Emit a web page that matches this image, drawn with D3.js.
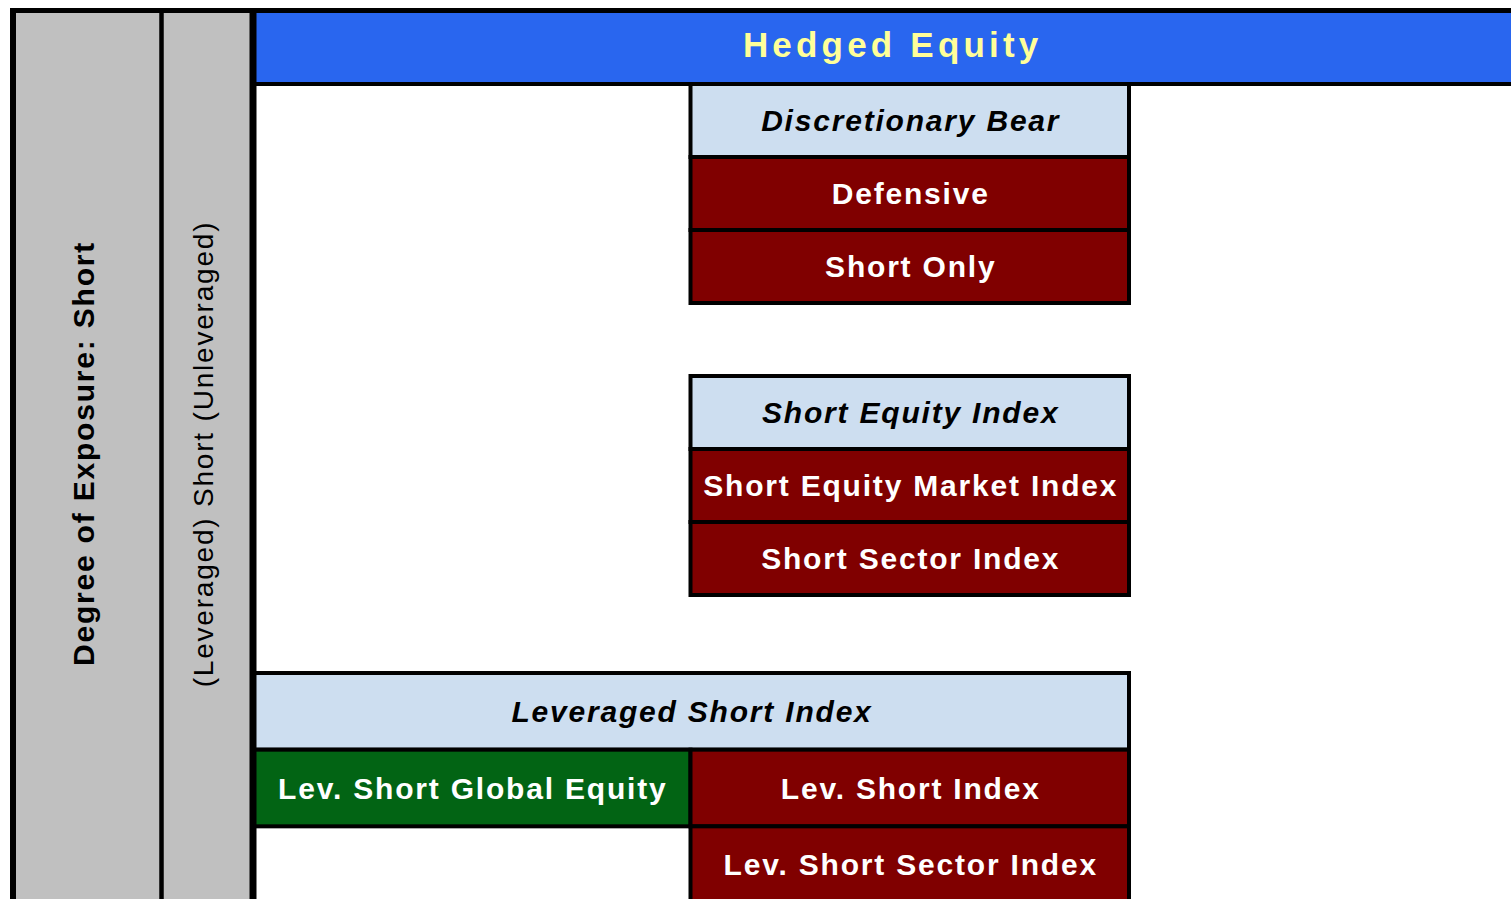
<!DOCTYPE html>
<html>
<head>
<meta charset="utf-8">
<script src="https://cdn.jsdelivr.net/npm/d3@7"></script>
<style>
  body { margin: 0; background: #fff; }
  svg { display: block; }
  text { font-family: "Liberation Sans", Arial, sans-serif; }
</style>
</head>
<body>
<svg id="chart"></svg>
<script>
// Labels and structure of the classification diagram
const headerLabel = 'Hedged Equity';
const sideLabels = ['Degree of Exposure: Short', '(Leveraged) Short (Unleveraged)'];

const cellLabels = [
  'Discretionary Bear', 'Defensive', 'Short Only',
  'Short Equity Index', 'Short Equity Market Index', 'Short Sector Index',
  'Leveraged Short Index', 'Lev. Short Global Equity', 'Lev. Short Index', 'Lev. Short Sector Index'
];
const cellTypes = [
  'group', 'short', 'short',
  'group', 'short', 'short',
  'group', 'global', 'short', 'short'
];
// grid row, first column and number of columns of each cell
const cellRows = [0, 1, 2, 4, 5, 6, 8, 9, 9, 10];
const cellCols = [1, 1, 1, 1, 1, 1, 0, 0, 1, 1];
const cellSpans = [1, 1, 1, 1, 1, 1, 2, 1, 1, 1];

class ClassificationChart {

  constructor(_config) {
    this.config = {
      parentElement: _config.parentElement,
      containerWidth: _config.containerWidth || 1511,
      containerHeight: _config.containerHeight || 899
    }
    this.data = cellLabels.map((d, i) => ({
      label: d,
      type: cellTypes[i],
      row: cellRows[i],
      col: cellCols[i],
      span: cellSpans[i]
    }));
    this.initVis();
  }

  initVis() {
    let vis = this;

    vis.fill = {
      header: '#2966ef',
      group: '#cddef0',
      short: '#800000',
      global: '#026414',
      side: '#c0c0c0'
    };

    // grid columns: -2..0 are the two side columns, 0..2 the strategy columns
    vis.xScale = d3.scaleLinear()
        .domain([-2, -1, 0, 1, 2])
        .range([13, 161.5, 253, 690.5, 1129]);

    // grid rows: -1 is the top header band, the leveraged rows are a bit taller
    vis.yScale = d3.scaleLinear()
        .domain([-1, 7, 8, 11])
        .range([11, 595, 673, 903]);

    vis.svg = d3.select(vis.config.parentElement)
        .attr('width', vis.config.containerWidth)
        .attr('height', vis.config.containerHeight);

    vis.chart = vis.svg.append('g');
    vis.renderVis();
  }

  renderVis() {
    let vis = this;
    const x = vis.xScale, y = vis.yScale;
    const bottom = vis.config.containerHeight + 20;

    // grey side columns
    vis.chart.selectAll('.side')
        .data(sideLabels)
      .join('rect')
        .attr('class', 'side')
        .attr('x', (d, i) => x(i - 2))
        .attr('y', y(-1))
        .attr('width', (d, i) => x(i - 1) - x(i - 2))
        .attr('height', bottom)
        .attr('fill', vis.fill.side);

    // header band
    vis.chart.append('rect')
        .attr('x', x(0))
        .attr('y', y(-1))
        .attr('width', x(2.92) - x(0))
        .attr('height', y(0) - y(-1))
        .attr('fill', vis.fill.header)
        .attr('stroke', '#000')
        .attr('stroke-width', 4);

    vis.chart.append('text')
        .attr('x', (x(0) + x(2.92)) / 2)
        .attr('y', (y(-1) + y(0)) / 2)
        .attr('dy', '0.28em')
        .attr('text-anchor', 'middle')
        .attr('font-size', 35)
        .attr('font-weight', 'bold')
        .attr('letter-spacing', '4.2px')
        .attr('fill', '#ffff99')
        .text(headerLabel);

    // strategy cells
    const cells = vis.chart.selectAll('.cell')
        .data(vis.data)
      .join('g')
        .attr('class', 'cell');

    cells.append('rect')
        .attr('x', d => x(d.col))
        .attr('y', d => y(d.row))
        .attr('width', d => x(d.col + d.span) - x(d.col))
        .attr('height', d => y(d.row + 1) - y(d.row))
        .attr('fill', d => vis.fill[d.type])
        .attr('stroke', '#000')
        .attr('stroke-width', 4);

    cells.append('text')
        .attr('x', d => (x(d.col) + x(d.col + d.span)) / 2 + 1)
        .attr('y', d => (y(d.row) + y(d.row + 1)) / 2)
        .attr('dy', '0.35em')
        .attr('text-anchor', 'middle')
        .attr('font-size', 30)
        .attr('font-weight', 'bold')
        .attr('font-style', d => d.type === 'group' ? 'italic' : 'normal')
        .attr('letter-spacing', '1.8px')
        .attr('fill', d => d.type === 'group' ? '#000' : '#fff')
        .text(d => d.label);

    // outer frame and side dividers
    const W = vis.config.containerWidth;
    vis.chart.append('line')
        .attr('x1', 10).attr('x2', W)
        .attr('y1', 10.5).attr('y2', 10.5)
        .attr('stroke', '#000').attr('stroke-width', 5);

    vis.chart.selectAll('.divider')
        .data([{v: -2, w: 6}, {v: -1, w: 4.5}, {v: 0, w: 7}])
      .join('line')
        .attr('class', 'divider')
        .attr('x1', d => x(d.v)).attr('x2', d => x(d.v))
        .attr('y1', 8).attr('y2', bottom)
        .attr('stroke', '#000')
        .attr('stroke-width', d => d.w);

    // vertical side labels
    vis.chart.selectAll('.side-label')
        .data(sideLabels)
      .join('text')
        .attr('class', 'side-label')
        .attr('transform', (d, i) => `translate(${i === 0 ? 94 : 213},${i === 0 ? 453.5 : 454}) rotate(-90)`)
        .attr('text-anchor', 'middle')
        .attr('font-size', (d, i) => i === 0 ? 30 : 28)
        .attr('font-weight', (d, i) => i === 0 ? 'bold' : 'normal')
        .attr('letter-spacing', '1.8px')
        .attr('fill', '#000')
        .text(d => d);
  }
}

new ClassificationChart({ parentElement: '#chart' });
</script>
</body>
</html>
